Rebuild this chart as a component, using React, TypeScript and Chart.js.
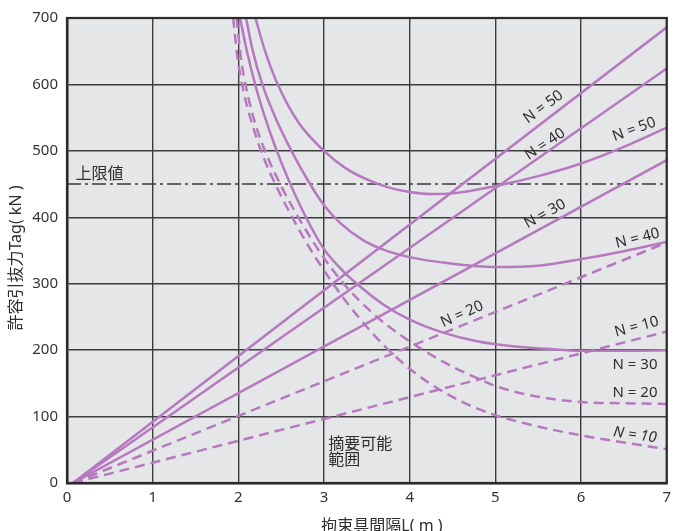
import React, { useEffect, useRef } from "react";
import { Chart, registerables } from "chart.js";

Chart.register(...registerables);

// ---------- axes ----------
const xTickValues = [0, 1, 2, 3, 4, 5, 6, 7];
const yTickValues = [0, 100, 200, 300, 400, 500, 600, 700];
const xTitle = "拘束具間隔L( m )";
const yTitle = "許容引抜力Tag( kN )";

// ---------- upper limit ----------
const upperLimitLabel = "上限値";
const upperLimitX = [0, 7];
const upperLimitY = [450, 450];

// ---------- straight lines (from origin) ----------
const straightX = [0.07, 7];
const straightN50 = [0, 686];
const straightN40 = [0, 624];
const straightN30 = [0, 486];
const straightN20 = [0, 362];
const straightN10 = [0, 228];

// ---------- curves ----------
const curveN50X = [2.2, 2.3, 2.45, 2.7, 3.0, 3.25, 3.5, 3.75, 4.0, 4.25, 4.5, 5.0, 5.5, 6.0, 6.5, 7.0];
const curveN50Y = [700, 655, 603, 543, 500, 474, 457, 445, 438, 435, 436, 447, 462, 481, 506, 535];

const curveN40X = [2.09, 2.16, 2.28, 2.45, 2.62, 2.8, 3.0, 3.2, 3.45, 3.7, 4.0, 4.5, 5.0, 5.5, 6.0, 6.5, 7.0];
const curveN40Y = [700, 655, 600, 545, 500, 458, 418, 390, 366, 351, 340, 330, 325, 327, 337, 349, 363];

const curveN30X = [2.02, 2.1, 2.2, 2.3, 2.42, 2.58, 2.77, 3.0, 3.2, 3.4, 3.7, 4.0, 4.4, 4.8, 5.2, 5.6, 6.0, 6.5, 7.0];
const curveN30Y = [700, 650, 598, 555, 510, 458, 405, 352, 322, 298, 268, 246, 226, 213, 206, 202, 199, 199, 200];

const curveN20X = [1.98, 2.03, 2.1, 2.2, 2.35, 2.5, 2.7, 2.95, 3.23, 3.6, 3.9, 4.21, 4.5, 4.8, 5.0, 5.45, 6.0, 6.5, 7.0];
const curveN20Y = [700, 640, 590, 540, 488, 447, 400, 348, 300, 252, 222, 196, 175, 157, 146, 131, 122, 120, 119];

const curveN10X = [1.94, 1.99, 2.06, 2.15, 2.28, 2.45, 2.65, 2.85, 3.09, 3.35, 3.7, 4.0, 4.21, 4.6, 4.98, 5.5, 5.99, 6.5, 7.0];
const curveN10Y = [700, 640, 590, 545, 495, 445, 395, 350, 303, 258, 207, 172, 152, 123, 103, 85, 72, 61, 51];

// ---------- text labels ----------
const labelTexts = ["N = 50", "N = 40", "N = 50", "N = 30", "N = 40", "N = 20", "N = 10", "N = 30", "N = 20", "N = 10"];
const areaLabelLines = ["摘要可能", "範囲"];

// ---------- styles ----------
const PURPLE = "#b679c0";
const TEXT = "#2e2e2e";
const FONT = '"Noto Sans", "Noto Sans CJK JP", sans-serif';

type Ann = { text: string; x: number; y: number; angle: number; align?: CanvasTextAlign; size?: number; italic?: boolean };

const annotations: Ann[] = [
  { text: upperLimitLabel, x: 0.1, y: 465, angle: 0, align: "left", size: 16 },
  { text: labelTexts[0], x: 5.56, y: 566, angle: 36 },
  { text: labelTexts[1], x: 5.58, y: 510, angle: 34 },
  { text: labelTexts[2], x: 6.62, y: 532, angle: 20 },
  { text: labelTexts[3], x: 5.58, y: 405, angle: 29 },
  { text: labelTexts[4], x: 6.66, y: 368, angle: 14 },
  { text: labelTexts[5], x: 4.61, y: 254, angle: 24 },
  { text: labelTexts[6], x: 6.65, y: 235, angle: 15 },
  { text: labelTexts[7], x: 6.63, y: 178, angle: 0 },
  { text: labelTexts[8], x: 6.63, y: 136.5, angle: 0 },
  { text: labelTexts[9], x: 6.63, y: 72, angle: -8, italic: true },
  { text: areaLabelLines[0], x: 3.05, y: 58, angle: 0, align: "left", size: 16 },
  { text: areaLabelLines[1], x: 3.05, y: 34, angle: 0, align: "left", size: 16 },
];

const toPoints = (xs: number[], ys: number[]) => xs.map((x, i) => ({ x, y: ys[i] }));

const makeLine = (label: string, xs: number[], ys: number[], curve: boolean, dashed: boolean) => ({
  label,
  data: toPoints(xs, ys),
  borderColor: PURPLE,
  backgroundColor: PURPLE,
  borderWidth: 2.5,
  borderDash: dashed ? [10, 6] : [],
  pointRadius: 0,
  fill: false,
  tension: curve ? 0.4 : 0,
  cubicInterpolationMode: curve ? "monotone" : "default",
});

const plotBackground = {
  id: "plotBackground",
  beforeDraw(chart: any) {
    const { ctx, chartArea } = chart;
    ctx.save();
    ctx.fillStyle = "#e5e6e8";
    ctx.fillRect(chartArea.left, chartArea.top, chartArea.right - chartArea.left, chartArea.bottom - chartArea.top);
    ctx.restore();
  },
};

const overlay = {
  id: "overlay",
  afterDraw(chart: any) {
    const { ctx, chartArea, scales } = chart;
    const xs = scales.x;
    const ys = scales.y;
    // frame
    ctx.save();
    ctx.strokeStyle = "#2b2b2b";
    ctx.lineWidth = 2.2;
    ctx.strokeRect(chartArea.left, chartArea.top, chartArea.right - chartArea.left, chartArea.bottom - chartArea.top);
    ctx.restore();

    // annotations
    for (const a of annotations) {
      const px = xs.getPixelForValue(a.x);
      const py = ys.getPixelForValue(a.y);
      ctx.save();
      ctx.translate(px, py);
      ctx.rotate((-a.angle * Math.PI) / 180);
      ctx.fillStyle = TEXT;
      ctx.font = `${a.italic ? "italic " : ""}${a.size || 15}px ${FONT}`;
      ctx.textAlign = a.align || "center";
      ctx.textBaseline = "middle";
      ctx.fillText(a.text, 0, 0);
      ctx.restore();
    }

    // axis titles
    ctx.save();
    ctx.fillStyle = TEXT;
    ctx.font = `16px ${FONT}`;
    ctx.textAlign = "center";
    ctx.textBaseline = "middle";
    ctx.fillText(xTitle, 382, 526);
    ctx.translate(16, 258);
    ctx.rotate(-Math.PI / 2);
    ctx.fillText(yTitle, 0, 0);
    ctx.restore();
  },
};

export default function App() {
  const ref = useRef<HTMLCanvasElement>(null);

  useEffect(() => {
    const canvas = ref.current;
    if (!canvas) return;
    const datasets: any[] = [
      makeLine("N=50 line", straightX, straightN50, false, false),
      makeLine("N=40 line", straightX, straightN40, false, false),
      makeLine("N=30 line", straightX, straightN30, false, false),
      makeLine("N=20 line", straightX, straightN20, false, true),
      makeLine("N=10 line", straightX, straightN10, false, true),
      makeLine("N=50 curve", curveN50X, curveN50Y, true, false),
      makeLine("N=40 curve", curveN40X, curveN40Y, true, false),
      makeLine("N=30 curve", curveN30X, curveN30Y, true, false),
      makeLine("N=20 curve", curveN20X, curveN20Y, true, true),
      makeLine("N=10 curve", curveN10X, curveN10Y, true, true),
      {
        label: upperLimitLabel,
        data: toPoints(upperLimitX, upperLimitY),
        borderColor: "#3a3a3a",
        borderWidth: 1.5,
        borderDash: [14, 4, 3, 4],
        pointRadius: 0,
        fill: false,
        tension: 0,
      },
    ];

    const tickFont = { size: 15, family: FONT };

    const chart = new Chart(canvas, {
      type: "line",
      data: { datasets },
      options: {
        responsive: false,
        animation: false,
        events: [],
        layout: { padding: { top: 15, right: 7, left: 0, bottom: 0 } },
        plugins: { legend: { display: false }, tooltip: { enabled: false } },
        scales: {
          x: {
            type: "linear",
            min: 0,
            max: 7,
            afterFit: (s: any) => {
              s.height = 48;
            },
            afterBuildTicks: (s: any) => {
              s.ticks = xTickValues.map((v) => ({ value: v }));
            },
            ticks: { padding: 6, color: "#333", font: tickFont, maxRotation: 0, autoSkip: false },
            grid: { color: "#3d3d3d", lineWidth: 1.4, drawTicks: false },
            border: { display: true, color: "#2b2b2b", width: 2.5 },
          },
          y: {
            type: "linear",
            min: 0,
            max: 700,
            afterFit: (s: any) => {
              s.width = 67;
            },
            afterBuildTicks: (s: any) => {
              s.ticks = yTickValues.map((v) => ({ value: v }));
            },
            ticks: { padding: 9, color: "#333", font: tickFont, autoSkip: false },
            grid: { color: "#3d3d3d", lineWidth: 1.4, drawTicks: false },
            border: { display: true, color: "#2b2b2b", width: 2.5 },
          },
        },
      } as any,
      plugins: [plotBackground, overlay],
    });
    return () => chart.destroy();
  }, []);

  return (
    <div style={{ position: "absolute", left: 0, top: 0, width: 677, height: 531 }}>
      <canvas ref={ref} width={677} height={531} style={{ display: "block" }} />
    </div>
  );
}
